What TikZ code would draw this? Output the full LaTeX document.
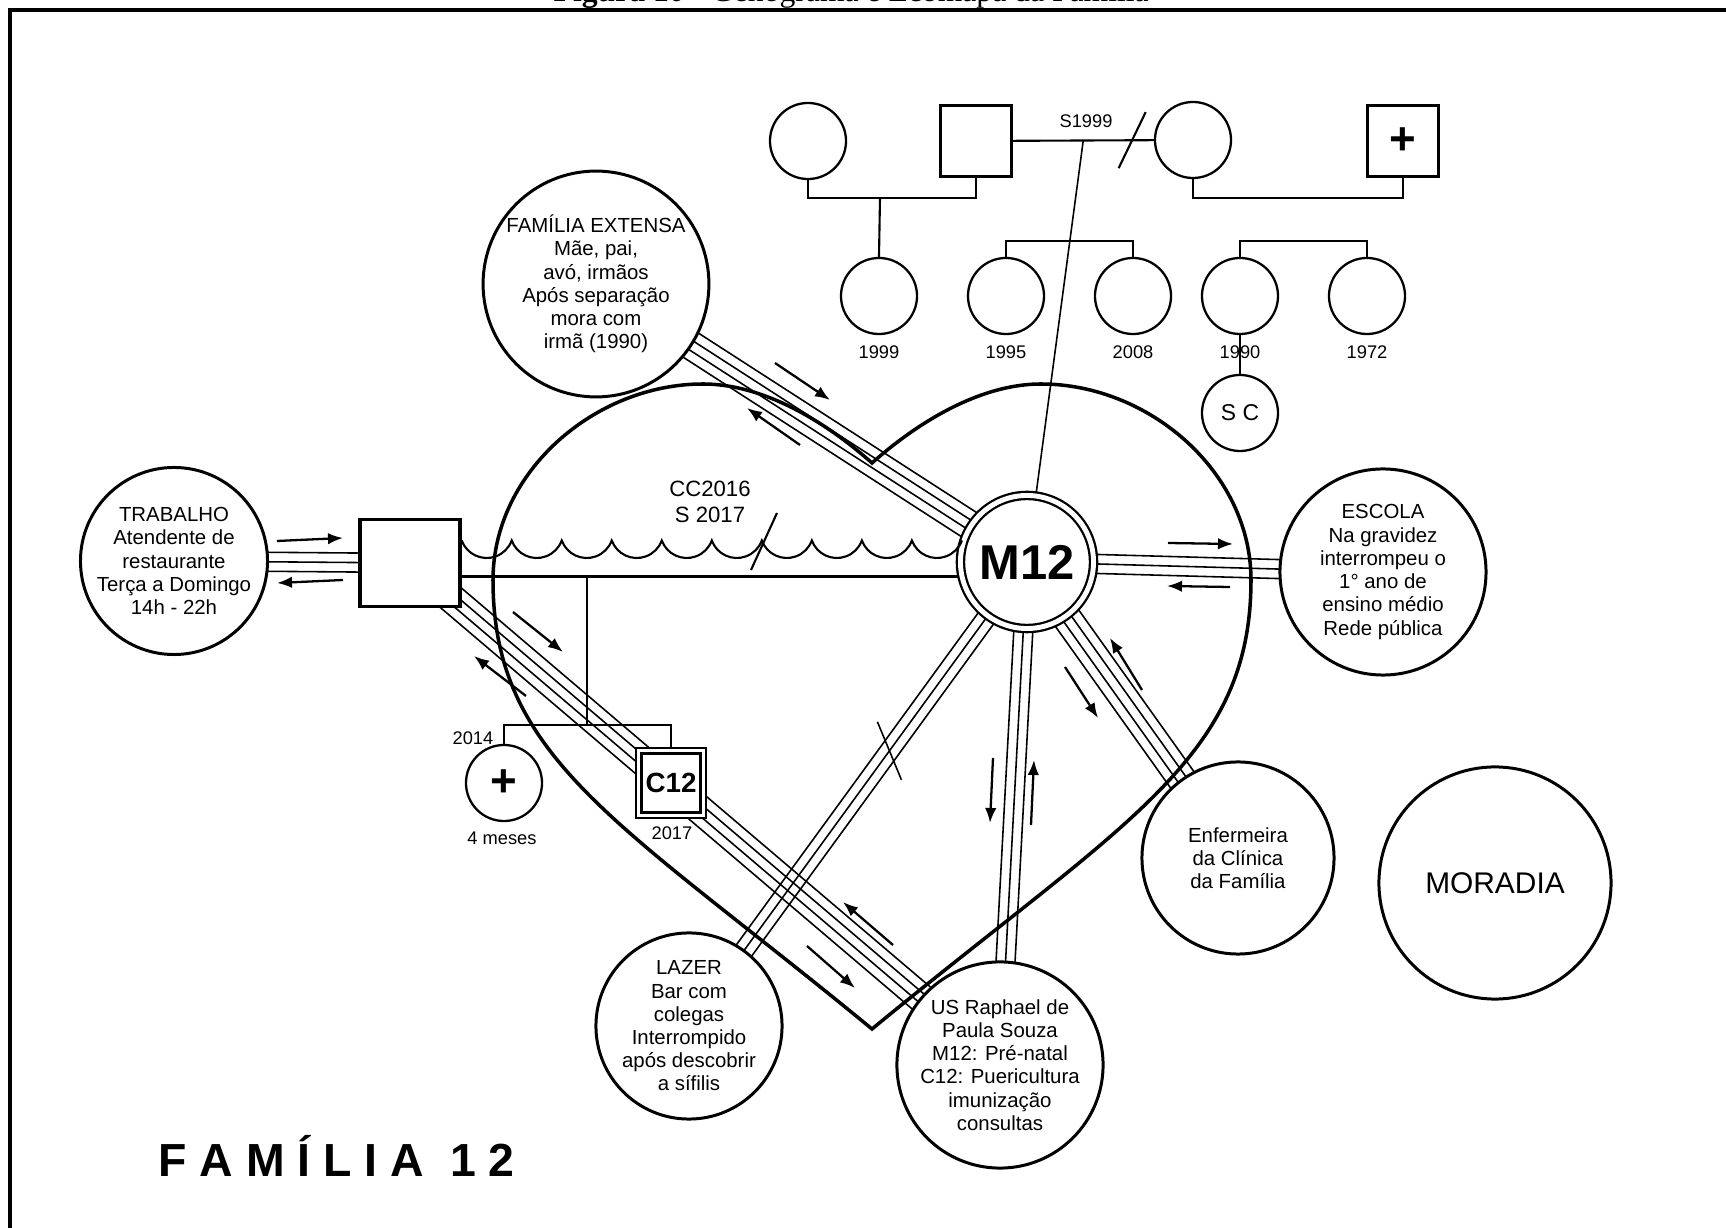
\documentclass[tikz,border=0pt]{standalone}
\usepackage{fontspec}
\setmainfont{Liberation Sans}
\newfontfamily\serifa{Liberation Serif}
\usetikzlibrary{calc,arrows.meta,backgrounds}

\tikzset{
  eco/.style={circle, draw, line width=0.85pt, fill=white, inner sep=0pt, align=center,
    font=\fontsize{5.8}{6.6}\selectfont},
  geno/.style={circle, draw, line width=0.65pt, fill=white, minimum size=0.76cm, inner sep=0pt},
  genoq/.style={rectangle, draw, line width=0.65pt, fill=white, minimum size=0.71cm, inner sep=0pt},
  rotulo/.style={inner sep=0pt, font=\fontsize{5.2}{6}\selectfont},
  rel/.style={line width=0.45pt},
  liga/.style={line width=0.6pt},
  seta/.style={line width=0.65pt, -{Latex[length=1.5mm, width=1.15mm]}},
  coracao/.style={line width=1pt, line join=miter},
}

% parallel lines between two nodes (offsets in cm)
\newcommand{\feixe}[3]{%
  \foreach \d in {#1}
    \draw[rel] ($(#2)!\d cm!90:(#3)$) -- ($(#3)!\d cm!-90:(#2)$);
}

\begin{document}
\begin{tikzpicture}[x=0.01cm, y=-0.01cm]
\useasboundingbox (0,0) rectangle (1726,1228);

\node[anchor=base west, inner sep=0pt, font=\serifa\fontsize{9}{10}\selectfont] (figura) at (553,1.5) {\textbf{Figura 10 -} Genograma e Ecomapa da Família};
\draw[line width=1.15pt] (10,10) rectangle (1790,1290);

% genograma
\node[geno] (gA) at (808,141) {};
\node[genoq] (gB) at (976,141) {};
\node[geno] (gC) at (1193,140) {};
\node[genoq, font=\fontsize{13}{13}\selectfont\bfseries] (gD) at (1403,141) {+};
\foreach \n/\x/\a in {E/879/1999, F/1006/1995, G/1133/2008, H/1240/1990, I/1367/1972} {
  \node[geno] (g\n) at (\x,296) {};
  \node[rotulo] (ano\n) at (\x,352) {\a};
}
\node[geno, font=\fontsize{6.5}{7}\selectfont] (sc) at (1240,413) {S C};
\node[rotulo] (sep1999) at (1086,121) {S1999};
\coordinate (linhaAB) at (880,198);
\coordinate (linhaCD) at (1298,198);
\coordinate (irmFG) at (1070,241);
\coordinate (irmHI) at (1303,241);
\coordinate (casal) at ($(gB.east)!0.5!(gC.west)$);

% ecomapa
\node[eco, minimum size=1.74cm] (trabalho) at (174,561) {TRABALHO\\Atendente de\\restaurante\\Terça a Domingo\\14h - 22h};
\node[draw, line width=0.95pt, fill=white, minimum width=1cm, minimum height=0.87cm, inner sep=0pt] (parceiro) at (410,563) {};
\node[eco, minimum size=2.08cm] (extensa) at (596,284) {FAMÍLIA EXTENSA\\Mãe, pai,\\avó, irmãos\\Após separação\\mora com\\irmã (1990)};
\node[eco, double, double distance=1.4pt, line width=0.65pt, minimum size=1.33cm, outer sep=0.035cm,
  font=\fontsize{13.9}{14}\selectfont\bfseries] (m12) at (1027,562) {M12};
\node[eco, minimum size=2.06cm] (escola) at (1383,572) {ESCOLA\\Na gravidez\\interrompeu o\\1° ano de\\ensino médio\\Rede pública};
\node[eco, minimum size=1.92cm] (enfermeira) at (1238,858) {Enfermeira\\da Clínica\\da Família};
\node[eco, minimum size=2.32cm, font=\fontsize{8.5}{10}\selectfont] (moradia) at (1495,883) {MORADIA};
\node[eco, minimum size=1.9cm] (us) at (1000,1065) {US Raphael de\\Paula Souza\\M12: Pré-natal\\C12: Puericultura\\imunização\\consultas};
\node[eco, minimum size=1.76cm] (lazer) at (689,1026) {LAZER\\Bar com\\colegas\\Interrompido\\após descobrir\\a sífilis};
\node[draw, double, double distance=1pt, line width=0.65pt, fill=white, minimum size=0.645cm, inner sep=0pt,
  font=\fontsize{7.9}{9}\selectfont\bfseries] (c12) at (671,783) {C12};
\node[circle, draw, line width=0.65pt, fill=white, minimum size=0.76cm, inner sep=0pt,
  font=\fontsize{13}{13}\selectfont\bfseries] (obito) at (504,783) {+};
\node[rotulo] (ano2014) at (473,738) {2014};
\node[rotulo] (ano2017) at (672,833) {2017};
\node[rotulo] (meses) at (502,838) {4 meses};
\node[align=center, inner sep=0pt, font=\fontsize{6.3}{7.4}\selectfont] (uniaolbl) at (710,502) {CC2016\\S 2017};
\coordinate (uniao) at ([yshift=-0.135cm]parceiro.east);
\coordinate (onda) at ([yshift=0.225cm]parceiro.east);
\coordinate (barra) at (587,725);

\node[anchor=base west, inner sep=0pt, font=\fontsize{13.2}{14}\selectfont\bfseries] (titulo) at (158,1177) {F A M Í L I A~~1 2};

\begin{scope}[on background layer]
\draw[coracao] (872,1029) .. controls (622,823) and (493,760) .. (493,580)
  .. controls (493,472) and (595,384) .. (703,384)
  .. controls (770,384) and (835,430) .. (872,463)
  .. controls (909,430) and (974,384) .. (1041,384)
  .. controls (1149,384) and (1251,472) .. (1251,580)
  .. controls (1251,760) and (1122,823) .. (872,1029) -- cycle;

\feixe{-0.095,0,0.095}{trabalho}{parceiro}
\feixe{-0.1425,-0.0475,0.0475,0.1425}{parceiro}{us}
\feixe{-0.1425,-0.0475,0.0475,0.1425}{m12}{extensa}
\feixe{-0.095,0,0.095}{m12}{escola}
\feixe{-0.1425,-0.0475,0.0475,0.1425}{m12}{enfermeira}
\feixe{-0.095,0,0.095}{m12}{us}
\feixe{-0.095,0,0.095}{m12}{lazer}

\draw[liga] (uniao) -- (uniao -| m12);
\draw[liga] (barra |- uniao) -- (barra);
\draw[liga] (obito.north) |- (barra) -| (c12.north);

\draw[liga] (gA.south) |- (linhaAB) -| (gB.south);
\draw[liga] (linhaAB) -- (gE.north);
\draw[liga] (gC.south) |- (linhaCD) -| (gD.south);
\draw[liga] (gF.north) |- (irmFG) -| (gG.north);
\draw[liga] (gH.north) |- (irmHI) -| (gI.north);
\draw[liga] (gH) -- (sc);
\draw[liga] (gB) -- (gC);
\draw[rel] (casal) -- (m12);
\end{scope}

% separacoes
\draw[liga] ($(gB.east)!0.85!(gC.west)$) ++(13,-28) -- ++(-27,56);
\draw[liga] (764,541) ++(13,-28) -- ++(-26,57);
\draw[rel] ($(m12)!0.407!(lazer)$) ++(-12,-29) -- ++(24,58);

% uniao conflituosa
\draw[liga] (onda) \foreach \k in {1,...,10} { arc[start angle=200, end angle=340, radius=0.266cm] };

% setas
\draw[seta] (277,541) -- (343,538);
\draw[seta] (343,580) -- (277,583);
\draw[seta] (513,612) -- (563,652);
\draw[seta] (526,696) -- (474,656);
\draw[seta] (893,945) -- (843,902);
\draw[seta] (807,946) -- (855,988);
\draw[seta] (775,363) -- (830,400);
\draw[seta] (800,445) -- (747,408);
\draw[seta] (1168,543) -- (1233,544);
\draw[seta] (1230,587) -- (1167,586);
\draw[seta] (1142,690) -- (1110,638);
\draw[seta] (1065,667) -- (1098,718);
\draw[seta] (993,758) -- (990,823);
\draw[seta] (1031,825) -- (1034,760);
\end{tikzpicture}
\end{document}
